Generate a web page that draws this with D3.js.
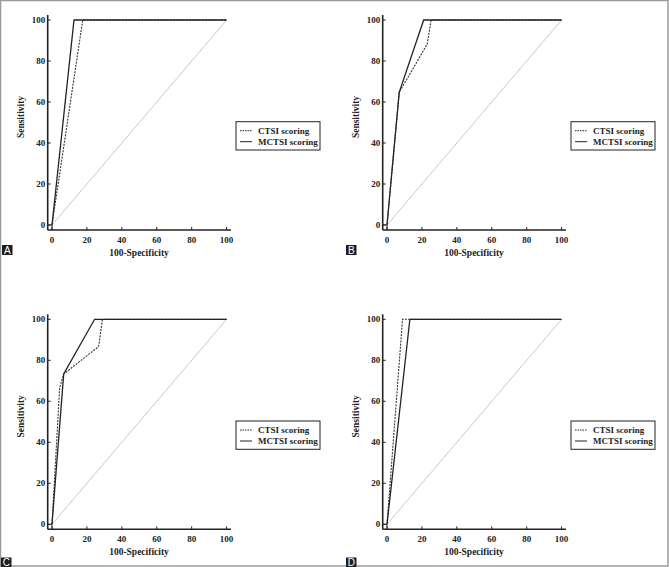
<!DOCTYPE html>
<html><head><meta charset="utf-8">
<script src="https://cdn.jsdelivr.net/npm/d3@7"></script>
<style>body{margin:0;background:#fff}svg{display:block}</style>
</head><body>
<script>
// ---- data ----
const panelIds = ["A", "B", "C", "D"];
const xTicks = [0, 20, 40, 60, 80, 100];
const yTicks = [0, 20, 40, 60, 80, 100];
const seriesNames = ["CTSI scoring", "MCTSI scoring"];
const xTitle = "100-Specificity";
const yTitle = "Sensitivity";

// 100-Specificity (x) and Sensitivity (y) per panel
const ctsiX_A = [0, 17.6, 100];
const ctsiY_A = [0, 100, 100];
const mctsiX_A = [0, 12.6, 100];
const mctsiY_A = [0, 100, 100];

const ctsiX_B = [0, 7, 23, 25.3, 100];
const ctsiY_B = [0, 64.7, 88.2, 100, 100];
const mctsiX_B = [0, 7, 21, 100];
const mctsiY_B = [0, 64.7, 100, 100];

const ctsiX_C = [0, 4.4, 6.7, 26.7, 28.9, 100];
const ctsiY_C = [0, 66.7, 73.3, 86.7, 100, 100];
const mctsiX_C = [0, 6.7, 24.4, 100];
const mctsiY_C = [0, 73.3, 100, 100];

const ctsiX_D = [0, 8.9, 100];
const ctsiY_D = [0, 100, 100];
const mctsiX_D = [0, 13.1, 100];
const mctsiY_D = [0, 100, 100];

const ctsiX = {A: ctsiX_A, B: ctsiX_B, C: ctsiX_C, D: ctsiX_D};
const ctsiY = {A: ctsiY_A, B: ctsiY_B, C: ctsiY_C, D: ctsiY_D};
const mctsiX = {A: mctsiX_A, B: mctsiX_B, C: mctsiX_C, D: mctsiX_D};
const mctsiY = {A: mctsiY_A, B: mctsiY_B, C: mctsiY_C, D: mctsiY_D};

// ---- layout ----
const W = 669, H = 567;
const svg = d3.select("body").append("svg").attr("width", W).attr("height", H);
svg.append("rect").attr("x", 0.5).attr("y", 0.5).attr("width", W - 1.5).attr("height", H - 1.5)
  .attr("fill", "#fff").attr("stroke", "#9a9a9a").attr("stroke-width", 1.5);

const offsets = {A: [0, 0], B: [335, 0], C: [0, 299.3], D: [335, 299.3]};
const labelPos = {A: [2, 245], B: [346, 245], C: [1, 557.5], D: [346, 557.5]};
const font = "'Liberation Serif','Times New Roman',serif";

panelIds.forEach(id => {
  const [ox, oy] = offsets[id];
  const g = svg.append("g").attr("transform", `translate(${ox},${oy})`);
  const x = d3.scaleLinear().domain([0, 100]).range([52, 226.6]);
  const y = d3.scaleLinear().domain([0, 100]).range([225, 20]);
  const axL = 47.7, axB = 230;

  // diagonal reference
  g.append("line").attr("x1", x(0)).attr("y1", y(0)).attr("x2", x(100)).attr("y2", y(100))
    .attr("stroke", "#c8c8c8").attr("stroke-width", 1);

  const line = d3.line().x(d => x(d[0])).y(d => y(d[1]));
  const ctsi = ctsiX[id].map((v, i) => [v, ctsiY[id][i]]);
  const mctsi = mctsiX[id].map((v, i) => [v, mctsiY[id][i]]);
  g.append("path").attr("d", line(ctsi)).attr("fill", "none").attr("stroke", "#333")
    .attr("stroke-width", 1.1).attr("stroke-dasharray", "2,1.2");
  g.append("path").attr("d", line(mctsi)).attr("fill", "none").attr("stroke", "#222")
    .attr("stroke-width", 1.3);

  // small corner box to origin
  g.append("path").attr("d", `M${axL},${y(0)}H${x(0)}V${axB}`).attr("fill", "none")
    .attr("stroke", "#222").attr("stroke-width", 1);

  // axes
  g.append("line").attr("x1", axL).attr("y1", 15).attr("x2", axL).attr("y2", axB)
    .attr("stroke", "#222").attr("stroke-width", 1.6);
  g.append("line").attr("x1", axL).attr("y1", axB).attr("x2", 231).attr("y2", axB)
    .attr("stroke", "#222").attr("stroke-width", 1.6);

  g.selectAll(".xt").data(xTicks).enter().append("line")
    .attr("x1", d => x(d)).attr("x2", d => x(d)).attr("y1", axB).attr("y2", axB - 3)
    .attr("stroke", "#222").attr("stroke-width", 1);
  g.selectAll(".xl").data(xTicks).enter().append("text")
    .attr("x", d => x(d)).attr("y", axB + 12.5).attr("text-anchor", "middle")
    .attr("font-family", font).attr("font-weight", "bold").attr("font-size", 9)
    .attr("fill", "#222").text(d => d);
  g.selectAll(".yt").data(yTicks).enter().append("line")
    .attr("x1", axL).attr("x2", axL + 3).attr("y1", d => y(d)).attr("y2", d => y(d))
    .attr("stroke", "#222").attr("stroke-width", 1);
  g.selectAll(".yl").data(yTicks).enter().append("text")
    .attr("x", axL - 2.5).attr("y", d => y(d) + 3).attr("text-anchor", "end")
    .attr("font-family", font).attr("font-weight", "bold").attr("font-size", 9)
    .attr("fill", "#222").text(d => d);

  g.append("text").attr("x", 139).attr("y", 255.5).attr("text-anchor", "middle")
    .attr("font-family", font).attr("font-weight", "bold").attr("font-size", 9.5)
    .attr("fill", "#222").text(xTitle);
  g.append("text").attr("transform", "translate(23.5,117) rotate(-90)").attr("text-anchor", "middle")
    .attr("font-family", font).attr("font-weight", "bold").attr("font-size", 9.5)
    .attr("fill", "#222").text(yTitle);

  // legend
  const lg = g.append("g").attr("transform", "translate(236,121.7)");
  lg.append("rect").attr("x", 0).attr("y", 0).attr("width", 84).attr("height", 28.3)
    .attr("fill", "#fff").attr("stroke", "#222").attr("stroke-width", 1);
  seriesNames.forEach((n, i) => {
    const yy = 9 + i * 11;
    lg.append("line").attr("x1", 4).attr("x2", 16).attr("y1", yy).attr("y2", yy)
      .attr("stroke", "#222").attr("stroke-width", 1)
      .attr("stroke-dasharray", i === 0 ? "1.5,1" : null);
    lg.append("text").attr("x", 22).attr("y", yy + 3).attr("font-family", font)
      .attr("font-weight", "bold").attr("font-size", 9).attr("fill", "#222").text(n);
  });
});

// panel letters
panelIds.forEach(id => {
  const [lx, ly] = labelPos[id];
  svg.append("rect").attr("x", lx).attr("y", ly).attr("width", 10.5).attr("height", 10)
    .attr("fill", "#1e1e1e");
  svg.append("text").attr("x", lx + 5.25).attr("y", ly + 8.6).attr("text-anchor", "middle")
    .attr("font-family", "'Liberation Sans',Arial,sans-serif").attr("font-size", 10)
    .attr("fill", "#fff").text(id);
});
</script>
</body></html>
